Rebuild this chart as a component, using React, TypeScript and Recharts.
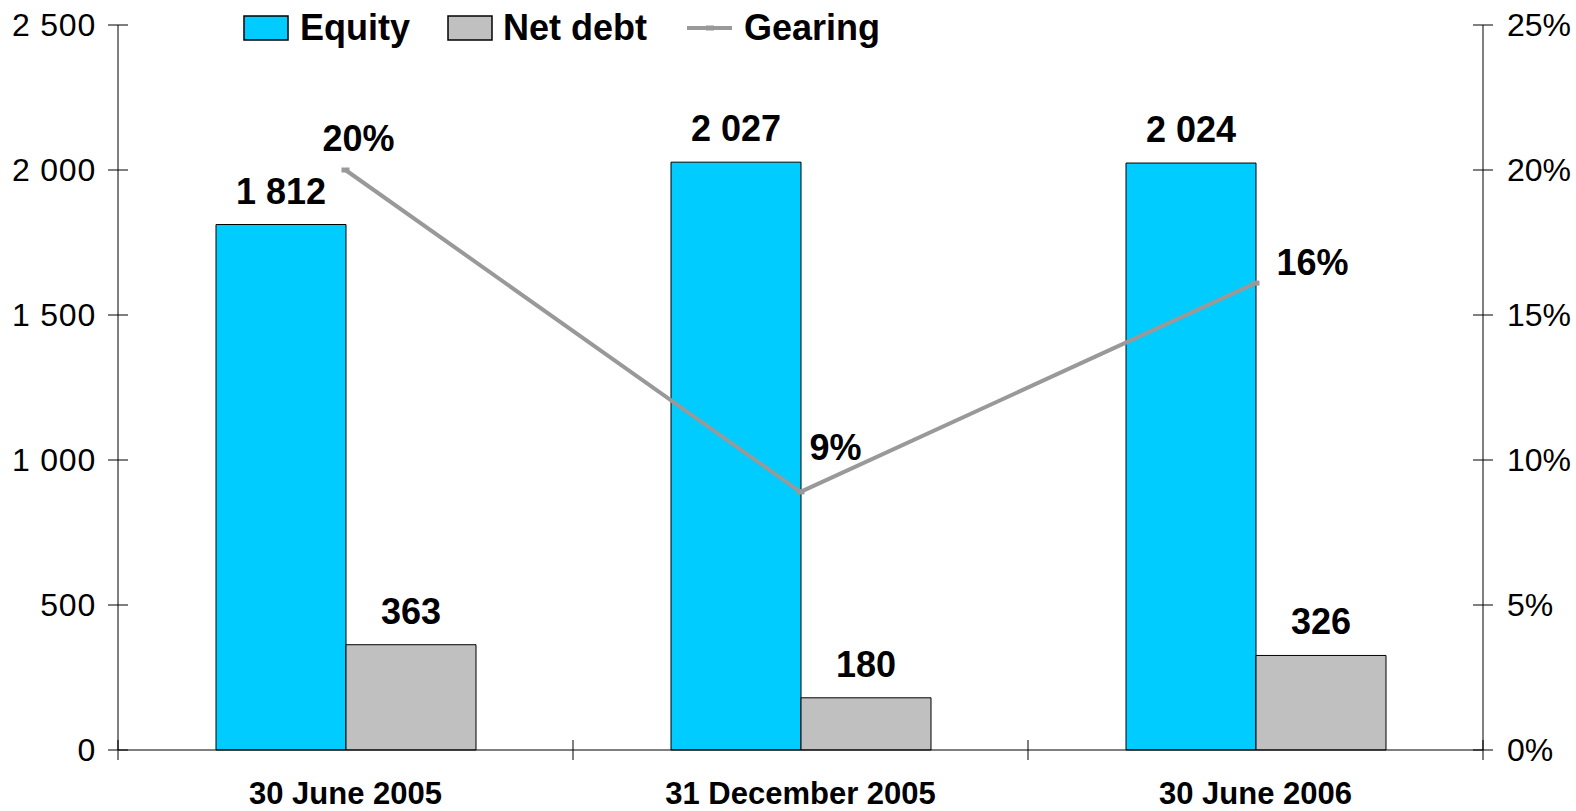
import React from 'react';
import { ComposedChart, Bar, Line, XAxis, YAxis, LabelList } from 'recharts';

const categories = ['30 June 2005', '31 December 2005', '30 June 2006'];
const equityValues = [1812, 2027, 2024];
const netDebtValues = [363, 180, 326];
const gearingValues = [20.0, 8.9, 16.1];
const leftTicks = [0, 500, 1000, 1500, 2000, 2500];
const rightTicks = [0, 5, 10, 15, 20, 25];
const seriesNames = ['Equity', 'Net debt', 'Gearing'];

const data = categories.map((c, i) => ({
  category: c,
  equity: equityValues[i],
  netDebt: netDebtValues[i],
  gearing: gearingValues[i],
}));

const FONT = '"Liberation Sans", Arial, Helvetica, sans-serif';
const EQUITY_COLOR = '#00CCFF';
const DEBT_COLOR = '#C0C0C0';
const LINE_COLOR = '#999999';

// per-point label offsets for the gearing labels (dx, dy from the point)
const gearingLabelOffsets = [
  [13, -19],
  [35, -32],
  [57, -8],
];

const fmt = (v: number) => String(v).replace(/\B(?=(\d{3})+(?!\d))/g, ' ');

const LeftTick = (props: any) => {
  const { x, y, payload } = props;
  return (
    <g>
      <line x1={x - 10} x2={x + 10} y1={y} y2={y} stroke="#000" strokeWidth={1} />
      <text x={x - 22} y={y} dy="0.35em" textAnchor="end" fontSize={32} letterSpacing={0.8} fontFamily={FONT} fill="#000">
        {fmt(payload.value)}
      </text>
    </g>
  );
};

const RightTick = (props: any) => {
  const { x, y, payload } = props;
  return (
    <g>
      <line x1={x - 10} x2={x + 10} y1={y} y2={y} stroke="#000" strokeWidth={1} />
      <text x={x + 24} y={y} dy="0.35em" textAnchor="start" fontSize={32} fontFamily={FONT} fill="#000">
        {`${payload.value}%`}
      </text>
    </g>
  );
};

const BottomTick = (props: any) => {
  const { x, y, payload, index } = props;
  const off = typeof payload.offset === 'number' ? payload.offset : 0;
  return (
    <g>
      <line x1={x - off} x2={x - off} y1={y - 10} y2={y + 10} stroke="#000" strokeWidth={1} />
      {index === categories.length - 1 && (
        <line x1={x + off} x2={x + off} y1={y - 10} y2={y + 10} stroke="#000" strokeWidth={1} />
      )}
      <text x={x} y={y + 54} textAnchor="middle" fontSize={31} fontWeight="bold" fontFamily={FONT} fill="#000">
        {payload.value}
      </text>
    </g>
  );
};

const BarLabel = (props: any) => {
  const { x, y, width, value } = props;
  return (
    <text x={x + width / 2} y={y - 21} textAnchor="middle" fontSize={36} fontWeight="bold" fontFamily={FONT} fill="#000">
      {fmt(value)}
    </text>
  );
};

const GearingLabel = (props: any) => {
  const { x, y, value, index } = props;
  const [dx, dy] = gearingLabelOffsets[index] || [0, -20];
  return (
    <text x={x + dx} y={y + dy} textAnchor="middle" fontSize={36} fontWeight="bold" fontFamily={FONT} fill="#000">
      {`${Math.round(value)}%`}
    </text>
  );
};

const DashDot = (props: any) => {
  const { cx, cy } = props;
  if (cx == null || cy == null) return null;
  return <rect x={cx - 4} y={cy - 2.5} width={8} height={5} fill={LINE_COLOR} />;
};

const LegendOverlay = () => (
  <svg width={700} height={60} style={{ position: 'absolute', left: 240, top: 0 }}>
    <rect x={4} y={16} width={44} height={24} fill={EQUITY_COLOR} stroke="#000" strokeWidth={1.5} />
    <text x={60} y={40} fontSize={36} fontWeight="bold" fontFamily={FONT} fill="#000">{seriesNames[0]}</text>
    <rect x={208} y={16} width={44} height={24} fill={DEBT_COLOR} stroke="#000" strokeWidth={1.5} />
    <text x={263} y={40} fontSize={36} fontWeight="bold" fontFamily={FONT} fill="#000">{seriesNames[1]}</text>
    <line x1={447} x2={492} y1={28} y2={28} stroke={LINE_COLOR} strokeWidth={4} />
    <rect x={466} y={25.5} width={8} height={5} fill={LINE_COLOR} />
    <text x={504} y={40} fontSize={36} fontWeight="bold" fontFamily={FONT} fill="#000">{seriesNames[2]}</text>
  </svg>
);

export default function App() {
  return (
    <div style={{ position: 'absolute', left: 0, top: 0, width: 1576, height: 811, background: '#fff' }}>
      <ComposedChart
        width={1576}
        height={811}
        data={data}
        margin={{ top: 25, right: 0, bottom: 0, left: 0 }}
        barGap={0}
      >
        <XAxis
          dataKey="category"
          height={61}
          axisLine={{ stroke: '#000', strokeWidth: 1 }}
          tickLine={false}
          tickSize={0}
          tickMargin={0}
          tick={<BottomTick />}
          interval={0}
        />
        <YAxis
          yAxisId="left"
          orientation="left"
          width={118}
          domain={[0, 2500]}
          ticks={leftTicks}
          axisLine={{ stroke: '#000', strokeWidth: 1 }}
          tickLine={false}
          tickSize={0}
          tickMargin={0}
          tick={<LeftTick />}
          interval={0}
        />
        <YAxis
          yAxisId="right"
          orientation="right"
          width={93}
          domain={[0, 25]}
          ticks={rightTicks}
          axisLine={{ stroke: '#000', strokeWidth: 1 }}
          tickLine={false}
          tickSize={0}
          tickMargin={0}
          tick={<RightTick />}
          interval={0}
        />
        <Bar yAxisId="left" dataKey="equity" name={seriesNames[0]} fill={EQUITY_COLOR} stroke="#000" strokeWidth={1} barSize={130} isAnimationActive={false}>
          <LabelList dataKey="equity" content={<BarLabel />} />
        </Bar>
        <Bar yAxisId="left" dataKey="netDebt" name={seriesNames[1]} fill={DEBT_COLOR} stroke="#000" strokeWidth={1} barSize={130} isAnimationActive={false}>
          <LabelList dataKey="netDebt" content={<BarLabel />} />
        </Bar>
        <Line
          yAxisId="right"
          dataKey="gearing"
          name={seriesNames[2]}
          type="linear"
          stroke={LINE_COLOR}
          strokeWidth={4}
          dot={<DashDot />}
          activeDot={false}
          isAnimationActive={false}
        >
          <LabelList dataKey="gearing" content={<GearingLabel />} />
        </Line>
      </ComposedChart>
      <LegendOverlay />
    </div>
  );
}
